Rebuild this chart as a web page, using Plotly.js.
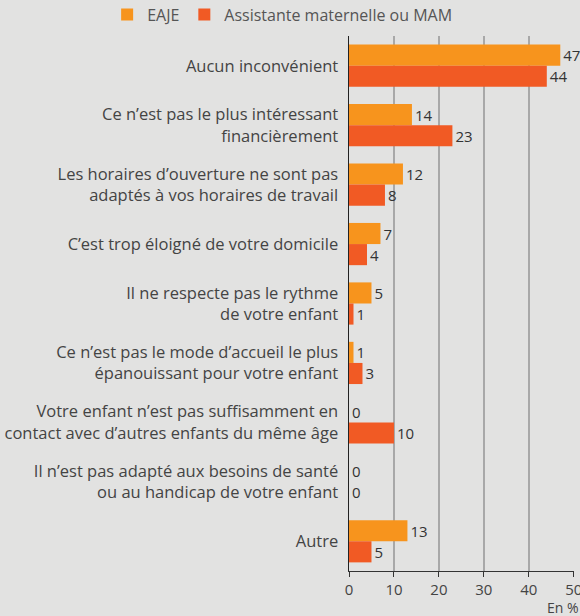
<!DOCTYPE html>
<html><head><meta charset="utf-8">
<script src="https://cdn.plot.ly/plotly-3.0.1.min.js"></script>
<style>body{margin:0;background:#e2e2e1}#c{width:580px;height:616px}</style>
</head><body><div id="c"></div>
<script>
const categories = [
  "Aucun inconvénient",
  "Ce n’est pas le plus intéressant<br>financièrement",
  "Les horaires d’ouverture ne sont pas<br>adaptés à vos horaires de travail",
  "C’est trop éloigné de votre domicile",
  "Il ne respecte pas le rythme<br>de votre enfant",
  "Ce n’est pas le mode d’accueil le plus<br>épanouissant pour votre enfant",
  "Votre enfant n’est pas suffisamment en<br>contact avec d’autres enfants du même âge",
  "Il n’est pas adapté aux besoins de santé<br>ou au handicap de votre enfant",
  "Autre"
];
const eaje = [47, 14, 12, 7, 5, 1, 0, 0, 13];
const mam = [44, 23, 8, 4, 1, 3, 10, 0, 5];
const seriesNames = ["EAJE", "Assistante maternelle ou MAM"];
const xTicks = [0, 10, 20, 30, 40, 50];

const font = "'Open Sans', sans-serif";
const mk = (name, vals, color) => ({
  type: "bar", orientation: "h", name: name,
  y: categories, x: vals,
  text: vals.map(String), textposition: "outside", cliponaxis: false,
  textfont: {family: font, size: 15, color: "#333"},
  marker: {color: color}, hoverinfo: "x+y"
});
const data = [mk(seriesNames[0], eaje, "#f7941d"), mk(seriesNames[1], mam, "#f15a24")];
const layout = {
  width: 580, height: 616,
  paper_bgcolor: "#e2e2e1", plot_bgcolor: "#e2e2e1",
  margin: {l: 349, r: 6, t: 36, b: 45, autoexpand: false},
  barmode: "group", bargap: 0.29, bargroupgap: 0,
  font: {family: font, color: "#444"},
  showlegend: true,
  legend: {orientation: "h", xref: "paper", yref: "paper", x: -1.075, xanchor: "left",
    y: 1.04, yanchor: "middle",
    font: {family: font, size: 16, color: "#555"}, traceorder: "normal",
    bgcolor: "rgba(0,0,0,0)", itemwidth: 30},
  xaxis: {range: [0, 50.05], tickvals: xTicks, ticks: "outside", ticklen: 5, tickcolor: "#333",
    showline: true, linecolor: "#333", linewidth: 1.2, ticklabeloverflow: "allow",
    showgrid: true, gridcolor: "#a8a8a8", gridwidth: 1.5, zeroline: false,
    tickfont: {family: font, size: 15, color: "#444"}, fixedrange: true},
  yaxis: {autorange: "reversed", ticks: "", showline: true, linecolor: "#222", linewidth: 1.5,
    tickfont: {family: font, size: 16.5, color: "#444"}, ticklabelstandoff: 6, fixedrange: true},
  annotations: [{text: "En %", xref: "paper", yref: "paper", x: 1.03, y: -0.068,
    xanchor: "right", yanchor: "middle", showarrow: false,
    font: {family: font, size: 14, color: "#444"}}]
};
Plotly.newPlot("c", data, layout, {displayModeBar: false, staticPlot: true});
</script></body></html>
